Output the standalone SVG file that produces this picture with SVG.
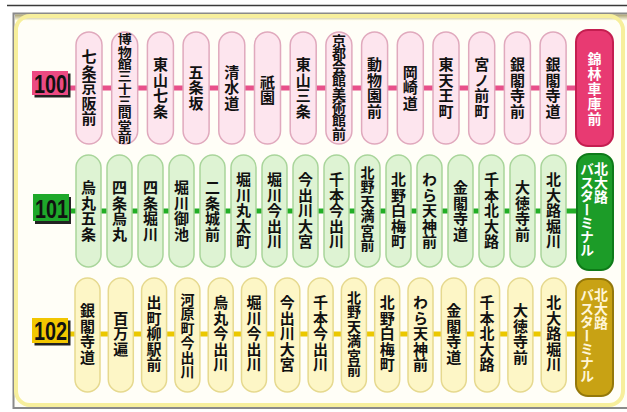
<svg xmlns="http://www.w3.org/2000/svg" width="627" height="412" viewBox="0 0 627 412">
<style>
.jp{font-family:"Noto Sans CJK JP","Noto Sans CJK SC",sans-serif;font-weight:700;writing-mode:vertical-rl;text-anchor:middle;fill:#111}
.t{font-size:15px;letter-spacing:0.5px}
.t6{font-size:14px;letter-spacing:0.5px}
.t8{font-size:14px;letter-spacing:0px}
.p1{fill:#fde5ee;stroke:#e0a9bd;stroke-width:1.5}
.p2{fill:#def3d3;stroke:#a9d59b;stroke-width:1.5}
.p3{fill:#fdf6c6;stroke:#e6d98f;stroke-width:1.5}
.num{font-family:"Liberation Sans",Arial,sans-serif;font-weight:700;font-size:25px;fill:#111}
.wt{fill:#fff}
</style>
<defs>
<linearGradient id="topg" x1="0" y1="0" x2="0" y2="1">
<stop offset="0" stop-color="#a8a070"/><stop offset="1" stop-color="#fffde8"/>
</linearGradient>
</defs>
<line x1="7" y1="5.5" x2="627" y2="5.5" stroke="#3a3a3a" stroke-width="1.5"/>
<rect x="13.5" y="13.5" width="640" height="394.5" fill="#fffef7" stroke="#8a8a8a" stroke-width="2"/>
<rect x="15" y="14.5" width="612" height="6" fill="url(#topg)"/>
<rect x="16" y="16" width="607" height="389" rx="14" fill="none" stroke="#f7ef9c" stroke-width="4"/>

<g id="connectors">
<line x1="68" y1="88" x2="577" y2="88" stroke="#e8508a" stroke-width="5"/>
<line x1="68" y1="211" x2="578" y2="211" stroke="#22ae26" stroke-width="5"/>
<line x1="68" y1="334" x2="577" y2="334" stroke="#ebc800" stroke-width="5"/>
</g>

<g id="label100">
<rect x="34.5" y="73.5" width="36" height="24" fill="#222"/>
<rect x="32" y="71" width="36" height="24" fill="#ec4a82"/>
<text class="num" x="34" y="92.5" textLength="33" lengthAdjust="spacingAndGlyphs">100</text>
</g>
<g id="label101">
<rect x="35" y="197" width="36" height="27" fill="#222"/>
<rect x="33" y="194" width="36" height="27" fill="#1ea82a"/>
<text class="num" x="35" y="217.5" textLength="33" lengthAdjust="spacingAndGlyphs">101</text>
</g>
<g id="label102">
<rect x="34.5" y="320.5" width="36" height="25" fill="#222"/>
<rect x="32" y="318" width="36" height="25" fill="#f2c600"/>
<text class="num" x="34" y="340" textLength="33" lengthAdjust="spacingAndGlyphs">102</text>
</g>

<!-- Row 100 -->
<g id="r1s1"><rect class="p1" x="76" y="32" width="26" height="112" rx="13"/><text class="jp t" x="89" y="88">七条京阪前</text></g>
<g id="r1s2"><rect class="p1" x="111.7" y="32" width="26" height="112" rx="13"/><text class="jp t8" x="124.7" y="0" transform="translate(0,89) scale(1,0.88)">博物館三十三間堂前</text></g>
<g id="r1s3"><rect class="p1" x="147.4" y="32" width="26" height="112" rx="13"/><text class="jp t" x="160.4" y="88">東山七条</text></g>
<g id="r1s4"><rect class="p1" x="183.1" y="32" width="26" height="112" rx="13"/><text class="jp t" x="196.1" y="88">五条坂</text></g>
<g id="r1s5"><rect class="p1" x="218.8" y="32" width="26" height="112" rx="13"/><text class="jp t" x="231.8" y="88">清水道</text></g>
<g id="r1s6"><rect class="p1" x="254.5" y="32" width="26" height="112" rx="13"/><text class="jp t" x="267.5" y="90">祇園</text></g>
<g id="r1s7"><rect class="p1" x="290.2" y="32" width="26" height="112" rx="13"/><text class="jp t" x="303.2" y="88">東山三条</text></g>
<g id="r1s8"><rect class="p1" x="325.9" y="32" width="26" height="112" rx="13"/><text class="jp t8" x="338.9" y="0" transform="translate(0,87) scale(1,0.95)">京都会館美術館前</text></g>
<g id="r1s9"><rect class="p1" x="361.6" y="32" width="26" height="112" rx="13"/><text class="jp t" x="374.6" y="88">動物園前</text></g>
<g id="r1s10"><rect class="p1" x="397.3" y="32" width="26" height="112" rx="13"/><text class="jp t" x="410.3" y="88">岡崎道</text></g>
<g id="r1s11"><rect class="p1" x="433" y="32" width="26" height="112" rx="13"/><text class="jp t" x="446" y="88">東天王町</text></g>
<g id="r1s12"><rect class="p1" x="468.7" y="32" width="26" height="112" rx="13"/><text class="jp t" x="481.7" y="88">宮ノ前町</text></g>
<g id="r1s13"><rect class="p1" x="504.4" y="32" width="26" height="112" rx="13"/><text class="jp t" x="517.4" y="88">銀閣寺前</text></g>
<g id="r1s14"><rect class="p1" x="540.1" y="32" width="26" height="112" rx="13"/><text class="jp t" x="553.1" y="88">銀閣寺道</text></g>
<g id="r1term"><rect x="576" y="30" width="37" height="116" rx="12" fill="#e83a72" stroke="#c41e50" stroke-width="2"/><text class="jp wt" style="font-size:14px;letter-spacing:1px" x="594.5" y="89">錦林車庫前</text></g>

<!-- Row 101 -->
<g id="r2s1"><rect class="p2" x="76" y="155" width="25" height="112" rx="12.5"/><text class="jp t" x="88.5" y="211">烏丸五条</text></g>
<g id="r2s2"><rect class="p2" x="107" y="155" width="25" height="112" rx="12.5"/><text class="jp t" x="119.5" y="211">四条烏丸</text></g>
<g id="r2s3"><rect class="p2" x="138" y="155" width="25" height="112" rx="12.5"/><text class="jp t" x="150.5" y="211">四条堀川</text></g>
<g id="r2s4"><rect class="p2" x="169" y="155" width="25" height="112" rx="12.5"/><text class="jp t" x="181.5" y="211">堀川御池</text></g>
<g id="r2s5"><rect class="p2" x="200" y="155" width="25" height="112" rx="12.5"/><text class="jp t" x="212.5" y="211">二条城前</text></g>
<g id="r2s6"><rect class="p2" x="231" y="155" width="25" height="112" rx="12.5"/><text class="jp t" x="243.5" y="211">堀川丸太町</text></g>
<g id="r2s7"><rect class="p2" x="262" y="155" width="25" height="112" rx="12.5"/><text class="jp t" x="274.5" y="211">堀川今出川</text></g>
<g id="r2s8"><rect class="p2" x="293" y="155" width="25" height="112" rx="12.5"/><text class="jp t" x="305.5" y="211">今出川大宮</text></g>
<g id="r2s9"><rect class="p2" x="324" y="155" width="25" height="112" rx="12.5"/><text class="jp t" x="336.5" y="211">千本今出川</text></g>
<g id="r2s10"><rect class="p2" x="355" y="155" width="25" height="112" rx="12.5"/><text class="jp t6" x="367.5" y="209">北野天満宮前</text></g>
<g id="r2s11"><rect class="p2" x="386" y="155" width="25" height="112" rx="12.5"/><text class="jp t" x="398.5" y="211">北野白梅町</text></g>
<g id="r2s12"><rect class="p2" x="417" y="155" width="25" height="112" rx="12.5"/><text class="jp t" x="429.5" y="211">わら天神前</text></g>
<g id="r2s13"><rect class="p2" x="448" y="155" width="25" height="112" rx="12.5"/><text class="jp t" x="460.5" y="211">金閣寺道</text></g>
<g id="r2s14"><rect class="p2" x="479" y="155" width="25" height="112" rx="12.5"/><text class="jp t" x="491.5" y="211">千本北大路</text></g>
<g id="r2s15"><rect class="p2" x="510" y="155" width="25" height="112" rx="12.5"/><text class="jp t" x="522.5" y="211">大徳寺前</text></g>
<g id="r2s16"><rect class="p2" x="541" y="155" width="25" height="112" rx="12.5"/><text class="jp t" x="553.5" y="211">北大路堀川</text></g>
<g id="r2term"><rect x="577" y="154" width="36" height="116" rx="12" fill="#1c9c28" stroke="#0e7a18" stroke-width="2"/><text class="jp wt" style="font-size:14px;letter-spacing:0px;text-anchor:start" x="601" y="162">北大路</text><text class="jp wt" style="font-size:14px;letter-spacing:-0.5px;text-anchor:start" x="587" y="162">バスターミナル</text></g>

<!-- Row 102 -->
<g id="r3s1"><rect class="p3" x="75" y="278" width="25" height="114" rx="12.5"/><text class="jp t" x="87.5" y="334">銀閣寺道</text></g>
<g id="r3s2"><rect class="p3" x="108.3" y="278" width="25" height="114" rx="12.5"/><text class="jp t" x="120.8" y="334">百万遍</text></g>
<g id="r3s3"><rect class="p3" x="141.6" y="278" width="25" height="114" rx="12.5"/><text class="jp t" x="154.1" y="334">出町柳駅前</text></g>
<g id="r3s4"><rect class="p3" x="174.9" y="278" width="25" height="114" rx="12.5"/><text class="jp t6" x="187.4" y="336">河原町今出川</text></g>
<g id="r3s5"><rect class="p3" x="208.2" y="278" width="25" height="114" rx="12.5"/><text class="jp t" x="220.7" y="334">烏丸今出川</text></g>
<g id="r3s6"><rect class="p3" x="241.5" y="278" width="25" height="114" rx="12.5"/><text class="jp t" x="254" y="334">堀川今出川</text></g>
<g id="r3s7"><rect class="p3" x="274.8" y="278" width="25" height="114" rx="12.5"/><text class="jp t" x="287.3" y="334">今出川大宮</text></g>
<g id="r3s8"><rect class="p3" x="308.1" y="278" width="25" height="114" rx="12.5"/><text class="jp t" x="320.6" y="334">千本今出川</text></g>
<g id="r3s9"><rect class="p3" x="341.4" y="278" width="25" height="114" rx="12.5"/><text class="jp t6" x="353.9" y="334">北野天満宮前</text></g>
<g id="r3s10"><rect class="p3" x="374.7" y="278" width="25" height="114" rx="12.5"/><text class="jp t" x="387.2" y="334">北野白梅町</text></g>
<g id="r3s11"><rect class="p3" x="408" y="278" width="25" height="114" rx="12.5"/><text class="jp t" x="420.5" y="334">わら天神前</text></g>
<g id="r3s12"><rect class="p3" x="441.3" y="278" width="25" height="114" rx="12.5"/><text class="jp t" x="453.8" y="334">金閣寺道</text></g>
<g id="r3s13"><rect class="p3" x="474.6" y="278" width="25" height="114" rx="12.5"/><text class="jp t" x="487.1" y="334">千本北大路</text></g>
<g id="r3s14"><rect class="p3" x="507.9" y="278" width="25" height="114" rx="12.5"/><text class="jp t" x="520.4" y="334">大徳寺前</text></g>
<g id="r3s15"><rect class="p3" x="541.2" y="278" width="25" height="114" rx="12.5"/><text class="jp t" x="553.7" y="334">北大路堀川</text></g>
<g id="r3term"><rect x="576" y="279" width="37" height="117" rx="12" fill="#c8a214" stroke="#94780a" stroke-width="2"/><text class="jp" style="fill:#fff6d8;font-size:14px;letter-spacing:0px;text-anchor:start" x="601" y="288">北大路</text><text class="jp" style="fill:#fff6d8;font-size:14px;letter-spacing:-0.5px;text-anchor:start" x="587" y="288">バスターミナル</text></g>
</svg>
